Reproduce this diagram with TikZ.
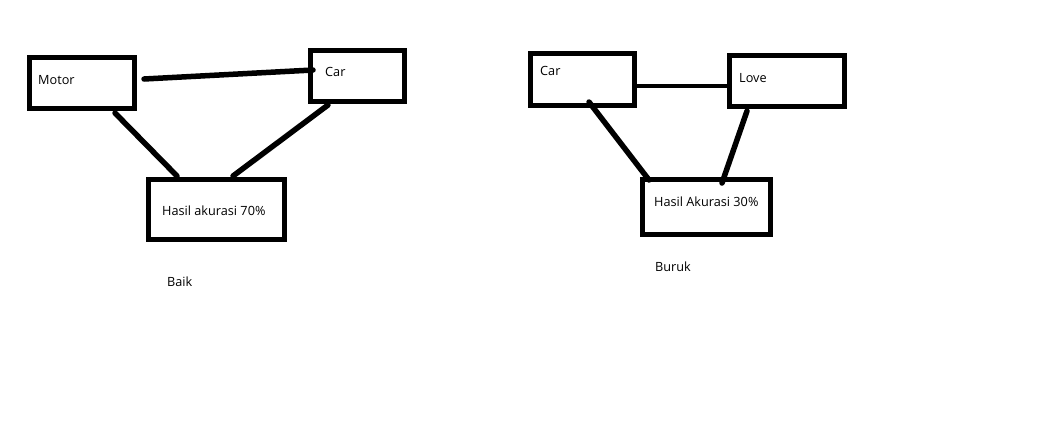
\documentclass[tikz,border=0pt]{standalone}
\usepackage{fontspec}
\setmainfont{Open Sans}
\usetikzlibrary{calc}
\begin{document}
\begin{tikzpicture}[x=1pt,y=-1pt,
  box/.style={draw=black,line width=5pt,minimum width=#1,inner sep=0pt,outer sep=0pt},
  lbl/.style={anchor=west,inner sep=0pt,font=\fontsize{12.7}{15}\selectfont},
  conn/.style={line width=5.5pt,line cap=round}]
\useasboundingbox[fill=white] (0,0) rectangle (1054,424);
% left diagram
\node[box=105pt,minimum height=51pt] (motor) at (82,83) {};
\node[box=94pt,minimum height=51pt] (carA) at (357.5,76) {};
\node[box=136pt,minimum height=60pt] (hasilA) at (216.5,209.5) {};
\node[lbl] (tmotor) at (38,80) {Motor};
\node[lbl] (tcarA) at (325,72) {Car};
\node[lbl] (thasilA) at (162,211) {Hasil akurasi 70\%};
\node[lbl] (baik) at (167,282) {Baik};
\draw[conn] ($(motor.east)+(9.5,-4)$) -- ($(carA.west)+(2.5,-6)$);
\draw[conn] ($(motor.south)+(33,4.5)$) -- ($(hasilA.north)+(-39.5,-3.5)$);
\draw[conn] ($(carA.south)+(-29.5,3.5)$) -- ($(hasilA.north)+(16.5,-3.5)$);
% right diagram
\node[box=104pt,minimum height=52pt] (carB) at (582.5,79.5) {};
\node[box=115pt,minimum height=51pt] (love) at (787,81) {};
\node[box=128pt,minimum height=55pt] (hasilB) at (706.5,207) {};
\node[lbl] (tcarB) at (540,71) {Car};
\node[lbl] (tlove) at (739,78) {Love};
\node[lbl] (thasilB) at (654,202) {Hasil Akurasi 30\%};
\node[lbl] (buruk) at (655,267) {Buruk};
\draw[line width=4.5pt] ($(carB.east)+(2.5,6.5)$) -- ($(love.west)+(-2.5,5)$);
\draw[conn] ($(carB.south)+(6.5,-3.5)$) -- ($(hasilB.north)+(-57.5,0.5)$);
\draw[conn] ($(love.south)+(-40,4.5)$) -- ($(hasilB.north)+(15.5,3.5)$);
\end{tikzpicture}
\end{document}
